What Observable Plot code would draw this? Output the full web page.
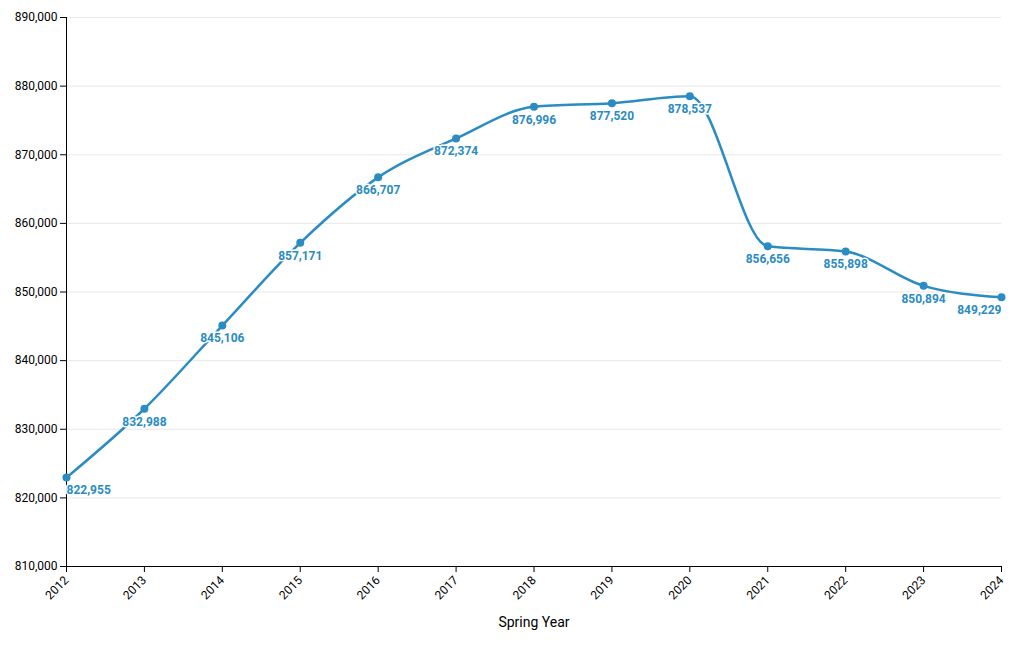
<!DOCTYPE html>
<html>
<head>
<meta charset="utf-8">
<script src="https://cdn.jsdelivr.net/npm/d3@7"></script>
<script src="https://cdn.jsdelivr.net/npm/@observablehq/plot@0.6"></script>
<style>
  html, body { margin: 0; padding: 0; background: #fff; }
  #chart svg { font-family: Roboto, "Noto Sans", sans-serif; }
</style>
</head>
<body>
<div id="chart"></div>
<script>
const years = [2012, 2013, 2014, 2015, 2016, 2017, 2018, 2019, 2020, 2021, 2022, 2023, 2024];
const enrollment = [822955, 832988, 845106, 857171, 866707, 872374, 876996, 877520, 878537, 856656, 855898, 850894, 849229];
const yTicks = [810000, 820000, 830000, 840000, 850000, 860000, 870000, 880000, 890000];
const xLabel = "Spring Year";

const data = years.map((y, i) => ({year: y, value: enrollment[i]}));
const color = "#2a8cc2";
const fmt = d3.format(",");
const first = years[0], last = years[years.length - 1];
const labelOpts = {x: "year", y: "value", text: d => fmt(d.value), dy: 13, fill: color, fontWeight: "bold", fontSize: 12, stroke: "white", strokeWidth: 3};

const chart = Plot.plot({
  width: 1020,
  height: 650,
  marginLeft: 66,
  marginRight: 19,
  marginTop: 17,
  marginBottom: 84,
  style: {fontFamily: "Roboto, 'Noto Sans', sans-serif", fontSize: "12px", color: "#000"},
  x: {domain: [first, last]},
  y: {domain: [810000, 890000]},
  marks: [
    Plot.gridY(yTicks, {stroke: "#e8e8e8", strokeOpacity: 1}),
    Plot.axisY(yTicks, {tickFormat: fmt, tickSize: 6, tickPadding: 3, fontSize: 12, label: null}),
    Plot.axisX(years, {tickFormat: "d", tickRotate: -45, tickSize: 6, fontSize: 12, label: null}),
    Plot.ruleY([810000], {stroke: "#000"}),
    Plot.ruleX([first], {stroke: "#000"}),
    Plot.line(data, {x: "year", y: "value", stroke: color, strokeWidth: 2.5, curve: "monotone-x"}),
    Plot.dot(data, {x: "year", y: "value", fill: color, r: 4}),
    Plot.text(data.filter(d => d.year === first), {...labelOpts, textAnchor: "start"}),
    Plot.text(data.filter(d => d.year !== first && d.year !== last), {...labelOpts, textAnchor: "middle"}),
    Plot.text(data.filter(d => d.year === last), {...labelOpts, textAnchor: "end"}),
    Plot.text([xLabel], {frameAnchor: "bottom", dy: 60, fontSize: 14, fill: "#000"})
  ]
});
document.getElementById("chart").appendChild(chart);
</script>
</body>
</html>
